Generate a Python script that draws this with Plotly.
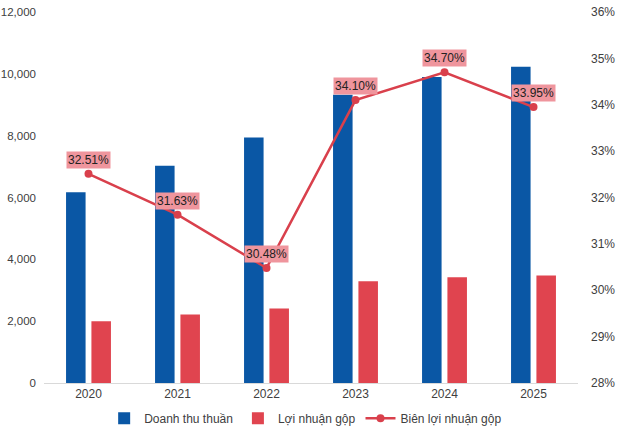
import plotly.graph_objects as go

years = [2020, 2021, 2022, 2023, 2024, 2025]
revenue = [6170, 7030, 7940, 9320, 9900, 10230]
gross_profit = [2000, 2215, 2410, 3290, 3420, 3475]
margin = [32.51, 31.63, 30.48, 34.10, 34.70, 33.95]
margin_labels = ["32.51%", "31.63%", "30.48%", "34.10%", "34.70%", "33.95%"]

left_ticks = [0, 2000, 4000, 6000, 8000, 10000, 12000]
right_ticks = [28, 29, 30, 31, 32, 33, 34, 35, 36]

FONT = "Liberation Sans, Arial, sans-serif"
BLUE = "#0A57A5"
RED = "#E0444F"

fig = go.Figure()
fig.add_trace(go.Bar(x=years, y=revenue, name="Doanh thu thuần",
                     marker=dict(color=BLUE, line=dict(width=0))))
fig.add_trace(go.Bar(x=years, y=gross_profit, name="Lợi nhuận gộp",
                     marker=dict(color=RED, line=dict(width=0))))
fig.add_trace(go.Scatter(x=years, y=margin, name="Biên lợi nhuận gộp", yaxis="y2",
                         mode="lines+markers",
                         line=dict(color="#D9404C", width=2.5),
                         marker=dict(color="#D9404C", size=8)))

for yr, m, lab in zip(years, margin, margin_labels):
    fig.add_annotation(x=yr, y=m, xref="x", yref="y2", text=lab, showarrow=False,
                       yshift=14, bgcolor="#EF959D", borderpad=1,
                       font=dict(family=FONT, size=12, color="#222222"))

fig.update_layout(
    width=624, height=429,
    margin=dict(l=44, r=46, t=12, b=46, autoexpand=False),
    paper_bgcolor="white", plot_bgcolor="white",
    barmode="group", bargap=0.43, bargroupgap=0.23,
    font=dict(family=FONT, size=12, color="#404040"),
    showlegend=True,
    legend=dict(orientation="h", x=0.49, xanchor="center", y=-0.095, yanchor="middle",
                font=dict(family=FONT, size=12, color="#404040"),
                itemwidth=30, tracegroupgap=0),
    xaxis=dict(type="linear", range=[2019.5, 2025.5], tickvals=years,
               ticktext=[str(y) for y in years], showgrid=False, zeroline=False,
               showline=True, linecolor="#D9D9D9", automargin=False,
               linewidth=1, ticks="", tickfont=dict(size=12, color="#404040")),
    yaxis=dict(range=[0, 12000], tickvals=left_ticks, tickformat=",d",
               showgrid=False, zeroline=False, ticks="", ticklabelstandoff=7,
               automargin=False, tickfont=dict(size=11.5, color="#404040")),
    yaxis2=dict(range=[28, 36], tickvals=right_ticks,
                ticktext=[f"{v}%" for v in right_ticks],
                overlaying="y", side="right", showgrid=False, zeroline=False,
                ticks="", ticklabelstandoff=12, automargin=False,
                tickfont=dict(size=12, color="#404040")),
)

fig.write_html("out.html")
